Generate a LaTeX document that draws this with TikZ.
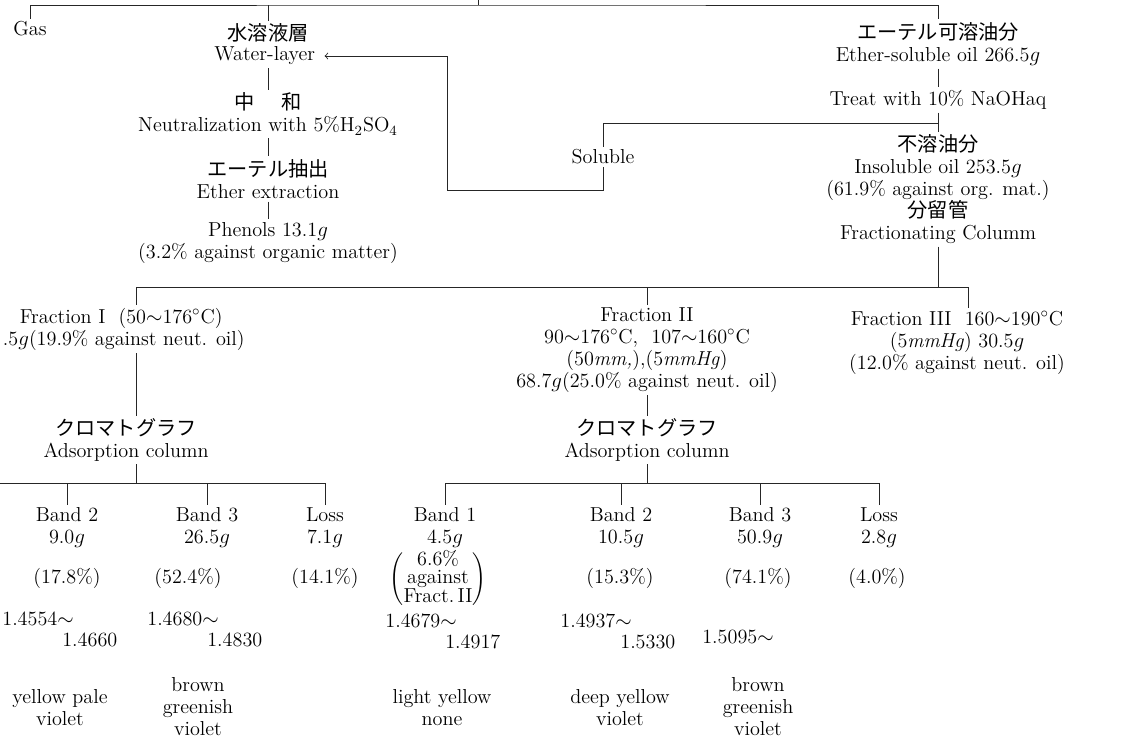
\documentclass[tikz,border=0pt]{standalone}
\usepackage{fontspec}
\usepackage{tikz}
\usetikzlibrary{positioning,calc}
\newfontfamily\jp{Noto Sans CJK JP}
\newcommand{\ridx}[2]{#1$\sim$\\\hspace*{1.2cm}#2}

\begin{document}
\begin{tikzpicture}[
    x=0.02cm, y=-0.02cm,
    every node/.style={font=\fontsize{11.5}{12.5}\selectfont},
    txt/.style={align=center, inner sep=1.5pt},
    idx/.style={align=left, inner sep=0pt, anchor=north west},
    link/.style={line width=0.5pt, draw=black!85},
    arrow/.style={link, ->, >=to}
]
\useasboundingbox (0,0) rectangle (1121,740);

\coordinate (top) at (478,0);
\coordinate (f0) at (478,5);
\coordinate (sfork) at (938,123);
\coordinate (sturn) at (447,190);
\coordinate (f1) at (136,287);
\coordinate (f3) at (968,287);
\coordinate (g1) at (0,483);

\node[txt] (gas) at (30,29) {Gas};
\node[txt] (waterjp) at (268,33) {\jp 水溶液層};
\node[txt] (water) at (268,56) {Water-layer\ };
\node[txt] (neut) at (268,114) {{\jp 中\hspace{1.3em}和}\\Neutralization with 5\%H$_2$SO$_4$};
\node[txt] (extr) at (268,179) {{\jp エーテル抽出}\\Ether extraction};
\node[txt] (phenol) at (268,243) {Phenols 13.1$g$\\(3.2\% against organic matter)};

\node[txt] (ether) at (938,44) {{\jp エーテル可溶油分}\\Ether-soluble oil 266.5$g$};
\node[txt] (treat) at (938,100) {Treat with 10\% NaOHaq};
\node[txt] (sol) at (603,157) {Soluble};
\node[txt] (insol) at (938,168) {{\jp 不溶油分}\\Insoluble oil 253.5$g$\\(61.9\% against org. mat.)};
\node[txt] (column) at (938,222) {{\jp 分留管}\\Fractionating Columm};

\node[txt, align=left, anchor=west] (fr1) at (0,329) {\hspace*{0.34cm}Fraction I\ \ (50$\sim$176$^\circ$C)\\.5$g$(19.9\% against neut. oil)};
\node[txt] (fr2) at (647,350) {Fraction II\\90$\sim$176$^\circ$C,\ \ 107$\sim$160$^\circ$C\\(50\textit{mm,}),(5\textit{mmHg})\\68.7$g$(25.0\% against neut. oil)};
\node[txt] (fr3) at (957,343) {Fraction III\ \ 160$\sim$190$^\circ$C\\(5\textit{mmHg})\ 30.5$g$\\(12.0\% against neut. oil)};

\node[txt] (ads1) at (126,440) {{\jp クロマトグラフ}\\Adsorption column};
\node[txt] (ads2) at (647,440) {{\jp クロマトグラフ}\\Adsorption column};

\node[txt] (b12) at (67,528) {Band 2\\9.0$g$};
\node[txt] (b13) at (207,528) {Band 3\\26.5$g$};
\node[txt] (b1l) at (325,528) {Loss\\7.1$g$};
\node[txt] (b21) at (445,528) {Band 1\\4.5$g$};
\node[txt] (b22) at (621,528) {Band 2\\10.5$g$};
\node[txt] (b23) at (760,528) {Band 3\\50.9$g$};
\node[txt] (b2l) at (879,528) {Loss\\2.8$g$};

\node[txt] (p12) at (67,578) {(17.8\%)};
\node[txt] (p13) at (188,578) {(52.4\%)};
\node[txt] (p1l) at (325,578) {(14.1\%)};
\node[txt, inner sep=0pt] (p21) at (438,579) {\renewcommand{\arraystretch}{0.78}$\left(\begin{tabular}{@{}c@{}}6.6\%\\against\\Fract.\,II\end{tabular}\right)$};
\node[txt] (p22) at (620,578) {(15.3\%)};
\node[txt] (p23) at (758,578) {(74.1\%)};
\node[txt] (p2l) at (877,578) {(4.0\%)};

\node[idx] (r12) at (2,611) {\ridx{1.4554}{1.4660}};
\node[idx] (r13) at (147,611) {\ridx{1.4680}{1.4830}};
\node[idx] (r21) at (385,613) {\ridx{1.4679}{1.4917}};
\node[idx] (r22) at (560,613) {\ridx{1.4937}{1.5330}};
\node[txt] (r23) at (738,637) {1.5095$\sim$};

\node[txt] (c12) at (60,708) {yellow pale\\violet};
\node[txt] (c13) at (198,707) {brown\\greenish\\violet};
\node[txt] (c21) at (442,708) {light yellow\\none};
\node[txt] (c22) at (620,708) {deep yellow\\violet};
\node[txt] (c23) at (758,707) {brown\\greenish\\violet};

\draw[link] (top) -- (f0);
\draw[link] (gas.north) |- (f0) -| (ether.north);
\draw[link] (waterjp.north) -- (waterjp.north |- f0);
\draw[link] (water.south) -- (neut.north);
\draw[link] (neut.south) -- (extr.north);
\draw[link] (extr.south) -- (phenol.north);

\draw[link] (ether.south) -- (treat.north);
\draw[link] (treat.south) -- (insol.north);
\draw[link] (sfork) -| (sol.north);
\draw[arrow] (sol.south) |- (sturn) |- (water.east);

\draw[link] (column.south) -- (column.south |- f1);
\draw[link] (f1) -- (f3);
\draw[link] (f1) -- (f1 |- fr1.north);
\draw[link] (fr2.north |- f1) -- (fr2.north);
\draw[link] (f3) -- (f3 |- fr3.north);

\draw[link] (f1 |- fr1.south) -- (f1 |- ads1.north);
\draw[link] (fr2.south) -- (ads2.north);
\draw[link] (f1 |- ads1.south) -- (f1 |- g1);
\draw[link] (ads2.south) -- (ads2.south |- g1);

\draw[link] (g1) -- (g1 -| b1l.north);
\draw[link] (g1 -| b21.north) -- (g1 -| b2l.north);
\foreach \n in {b12,b13,b1l,b21,b22,b23,b2l}
  \draw[link] (\n.north) -- (\n.north |- g1);
\end{tikzpicture}
\end{document}
